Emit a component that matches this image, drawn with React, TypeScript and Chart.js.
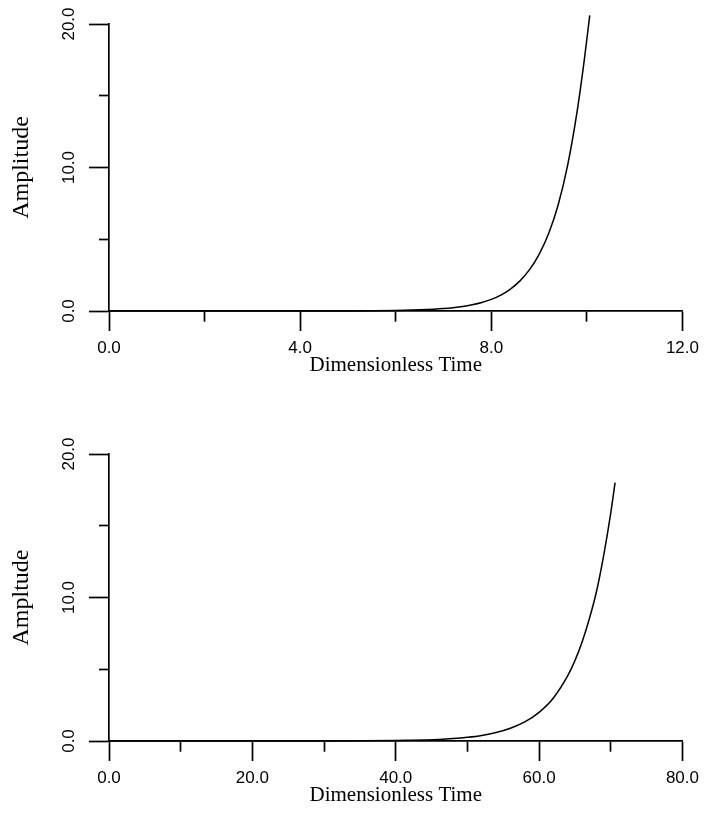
import React, { useEffect, useRef } from 'react';
import { Chart, registerables } from 'chart.js';

Chart.register(...registerables);

// ---- data ----
const TOP_TIME = [0, 1, 2, 3, 4, 5, 5.5, 6, 6.5, 6.8, 7.0, 7.2, 7.4, 7.6, 7.8, 8.0, 8.2, 8.4, 8.6, 8.8, 9.0, 9.2, 9.4, 9.6, 9.8, 9.95, 10.06];
const TOP_AMPLITUDE = [0, 0, 0, 0, 0, 0.006, 0.015, 0.035, 0.08, 0.125, 0.17, 0.23, 0.31, 0.43, 0.59, 0.81, 1.11, 1.53, 2.1, 2.88, 3.95, 5.4, 7.4, 10.2, 14.0, 17.6, 20.6];

const BOTTOM_TIME = [0, 10, 20, 30, 40, 42, 44, 46, 48, 50, 52, 54, 56, 58, 60, 62, 64, 65, 66, 67, 68, 69, 70, 70.6];
const BOTTOM_AMPLITUDE = [0, 0, 0, 0.004, 0.03, 0.05, 0.075, 0.11, 0.17, 0.26, 0.39, 0.59, 0.89, 1.33, 2.0, 3.0, 4.55, 5.6, 6.9, 8.5, 10.4, 12.9, 15.9, 18.0];

const TOP_X_MAX = 12;
const TOP_X_STEP = 2;
const TOP_X_LABELED = [0, 4, 8, 12];

const BOTTOM_X_MAX = 80;
const BOTTOM_X_STEP = 10;
const BOTTOM_X_LABELED = [0, 20, 40, 60, 80];

const Y_MAX = 20;
const Y_STEP = 5;
const Y_LABELED = [0, 10, 20];

const X_TITLE = 'Dimensionless Time';
const TOP_Y_TITLE = 'Amplitude';
const BOTTOM_Y_TITLE = 'Ampltude';

const SANS = '"Liberation Sans", Arial, sans-serif';
const SERIF = '"Liberation Serif", "Times New Roman", serif';

const isIn = (list: number[], v: number) => list.some((l) => Math.abs(l - v) < 1e-6);

type PanelProps = {
  time: number[];
  amp: number[];
  xMax: number;
  xStep: number;
  xLabeled: number[];
  yTitle: string;
  top: number;
};

function Panel({ time, amp, xMax, xStep, xLabeled, yTitle, top }: PanelProps) {
  const ref = useRef<HTMLCanvasElement | null>(null);

  useEffect(() => {
    if (!ref.current) return;
    const chart = new Chart(ref.current, {
      type: 'line',
      data: {
        datasets: [
          {
            data: time.map((t, i) => ({ x: t, y: amp[i] })),
            borderColor: '#000',
            borderWidth: 1.5,
            pointRadius: 0,
            fill: false,
            cubicInterpolationMode: 'monotone',
            clip: false as any,
          },
        ],
      },
      options: {
        animation: false,
        responsive: false,
        events: [],
        layout: { padding: { top: 24, right: 20, left: 0, bottom: 0 } },
        plugins: { legend: { display: false }, tooltip: { enabled: false } },
        scales: {
          x: {
            type: 'linear',
            min: 0,
            max: xMax,
            afterFit: (s: any) => {
              s.height = 72;
            },
            ticks: {
              stepSize: xStep,
              autoSkip: false,
              minRotation: 0,
              maxRotation: 0,
              padding: 7,
              color: '#000',
              font: { family: SANS, size: 17 },
              callback: (v: any) => (isIn(xLabeled, Number(v)) ? Number(v).toFixed(1) : ''),
            },
            grid: {
              drawOnChartArea: false,
              drawTicks: true,
              tickLength: 20,
              tickColor: '#000',
              tickWidth: 1.7,
              tickBorderDash: (ctx: any) => (ctx.tick && isIn(xLabeled, ctx.tick.value) ? [] : [10, 100]),
              tickBorderDashOffset: 0,
            },
            border: { display: true, color: '#000', width: 1.7 },
            title: {
              display: true,
              text: X_TITLE,
              color: '#000',
              font: { family: SERIF, size: 21 },
              padding: { top: 0, bottom: 5 },
            },
          },
          y: {
            type: 'linear',
            min: 0,
            max: Y_MAX,
            afterFit: (s: any) => {
              s.width = 109;
            },
            ticks: {
              stepSize: Y_STEP,
              autoSkip: false,
              minRotation: 90,
              maxRotation: 90,
              crossAlign: 'center',
              padding: 3.5,
              color: '#000',
              font: { family: SANS, size: 17 },
              callback: (v: any) => (isIn(Y_LABELED, Number(v)) ? Number(v).toFixed(1) : ''),
            },
            grid: {
              drawOnChartArea: false,
              drawTicks: true,
              tickLength: 20,
              tickColor: '#000',
              tickWidth: 1.7,
              tickBorderDash: (ctx: any) => (ctx.tick && isIn(Y_LABELED, ctx.tick.value) ? [] : [10, 10]),
              tickBorderDashOffset: (ctx: any) => (ctx.tick && isIn(Y_LABELED, ctx.tick.value) ? 0 : 10),
            },
            border: { display: true, color: '#000', width: 1.7 },
            title: {
              display: true,
              text: yTitle,
              color: '#000',
              font: { family: SERIF, size: 24 },
              padding: { top: 7, bottom: 0 },
            },
          },
        },
      } as any,
    });
    return () => chart.destroy();
  }, [time, amp, xMax, xStep, xLabeled, yTitle]);

  return (
    <div style={{ position: 'absolute', left: 0, top, width: 706, height: 383 }}>
      <canvas ref={ref} width={706} height={383} style={{ display: 'block' }} />
    </div>
  );
}

export default function App() {
  return (
    <div style={{ position: 'absolute', left: 0, top: 0, width: 706, height: 813, background: '#fff', overflow: 'hidden' }}>
      <Panel
        time={TOP_TIME}
        amp={TOP_AMPLITUDE}
        xMax={TOP_X_MAX}
        xStep={TOP_X_STEP}
        xLabeled={TOP_X_LABELED}
        yTitle={TOP_Y_TITLE}
        top={0}
      />
      <Panel
        time={BOTTOM_TIME}
        amp={BOTTOM_AMPLITUDE}
        xMax={BOTTOM_X_MAX}
        xStep={BOTTOM_X_STEP}
        xLabeled={BOTTOM_X_LABELED}
        yTitle={BOTTOM_Y_TITLE}
        top={430}
      />
    </div>
  );
}
